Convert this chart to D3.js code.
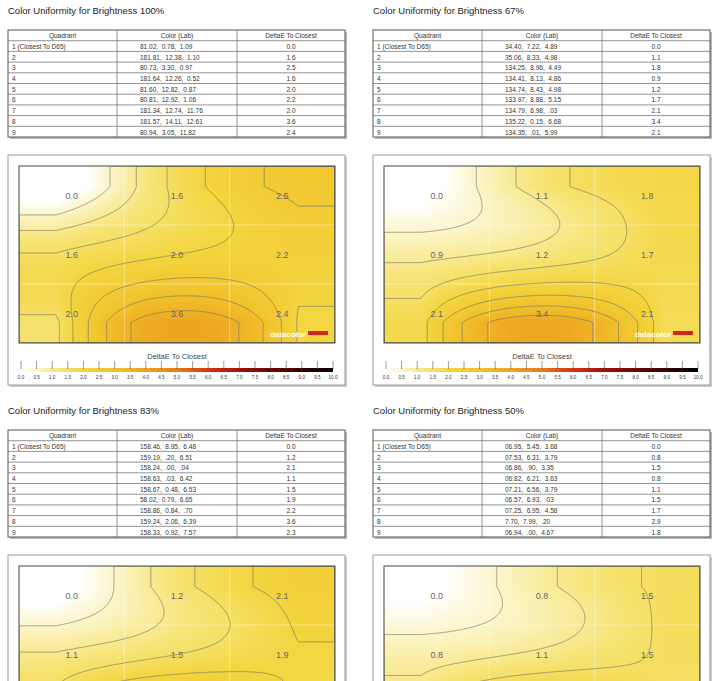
<!DOCTYPE html><html><head><meta charset="utf-8"><script src="https://cdn.jsdelivr.net/npm/d3@7"></script>
<style>body{margin:0;background:#fff}text{font-family:Arial,"Liberation Sans",sans-serif}</style></head><body>
<svg id="c" width="720" height="681"></svg>
<script>
const titles=["Color Uniformity for Brightness 100%","Color Uniformity for Brightness 67%","Color Uniformity for Brightness 83%","Color Uniformity for Brightness 50%"];
const quadrants=["1 (Closest To D65)","2","3","4","5","6","7","8","9"];
const lab100=["81.02,  0.78,  1.09","181.81,  12.38,  1.10","80.73,  3.30,  0.97","181.64,  12.26,  0.52","81.60,  12.82,  0.87","80.81,  12.92,  1.06","181.34,  12.74,  11.76","181.57,  14.11,  12.61","80.94,  3.05,  11.82"];
const lab67=["34.40,  7.22,  4.89","35.06,  8.33,  4.98","134.25,  8.96,  4.49","134.41,  8.13,  4.86","134.74,  8.43,  4.98","133.97,  8.88,  5.15","134.79,  6.98,  .03","135.22,  0.15,  6.68","134.35,  .01,  5.99"];
const lab83=["158.46,  8.95,  6.48","159.19,  .20,  6.51","158.24,  .00,  .04","158.63,  .03,  6.42","158.67,  0.48,  6.53","58.02,  0.79,  6.65","158.86,  0.84,  .70","159.24,  2.06,  6.39","158.33,  0.92,  7.57"];
const lab50=["06.95,  5.45,  3.68","07.53,  6.31,  3.79","06.86,  .90,  3.35","06.82,  6.21,  3.63","07.21,  6.56,  3.79","06.57,  6.93,  .03","07.25,  6.95,  4.58","7.70,  7.99,  .20","06.94,  .00,  4.67"];
const de100=[0.0,1.6,2.5,1.6,2.0,2.2,2.0,3.6,2.4];
const de67=[0.0,1.1,1.8,0.9,1.2,1.7,2.1,3.4,2.1];
const de83=[0.0,1.2,2.1,1.1,1.5,1.9,2.2,3.6,2.3];
const de50=[0.0,0.8,1.5,0.8,1.1,1.5,1.7,2.9,1.8];
const legendTicks=d3.range(0,10.01,0.5);
const panels=[{t:titles[0],lab:lab100,de:de100,x:8,y:0},{t:titles[1],lab:lab67,de:de67,x:373,y:0},{t:titles[2],lab:lab83,de:de83,x:8,y:400},{t:titles[3],lab:lab50,de:de50,x:373,y:400}];
const color=d3.scaleLinear().domain([0,0.6,1.2,2,3,4,5,6,7,8.5,10]).range(["#ffffff","#fbf3c0","#f7e57a","#f3d53e","#f1c02a","#eda320","#e87c16","#d83210","#a01008","#500400","#000000"]).clamp(true);
const svg=d3.select("#c");
const H=681;
function lag(v,u){u=Math.max(-0.15,Math.min(2.15,u));
 return v[0]*(u-1)*(u-2)/2 - v[1]*u*(u-2) + v[2]*u*(u-1)/2;}
panels.forEach((p,pi)=>{
 const g=svg.append("g").attr("transform",`translate(${p.x},${p.y})`);
 g.append("text").attr("x",0).attr("y",14).attr("font-size",9.5).attr("fill","#222").text(p.t);
 const W=337,rh=10.7,ty=30,cols=[0,109,229,W];
 const tg=g.append("g").attr("transform",`translate(0,${ty})`);
 tg.append("rect").attr("x",2).attr("y",2).attr("width",W).attr("height",rh*10).attr("fill","#bbb");
 tg.append("rect").attr("width",W).attr("height",rh*10).attr("fill","#fff").attr("stroke","#555");
 tg.selectAll("line.r").data(d3.range(1,10)).join("line").attr("x1",0).attr("x2",W).attr("y1",i=>i*rh).attr("y2",i=>i*rh).attr("stroke","#666").attr("stroke-width",0.7);
 tg.selectAll("line.c").data([109,229]).join("line").attr("x1",d=>d).attr("x2",d=>d).attr("y1",0).attr("y2",rh*10).attr("stroke","#666").attr("stroke-width",0.7);
 const hd=["Quadrant","Color (Lab)","DeltaE To Closest"];
 hd.forEach((h,i)=>tg.append("text").attr("x",(cols[i]+cols[i+1])/2).attr("y",rh-2.5).attr("text-anchor","middle").attr("font-size",6.5).attr("fill","#333").text(h));
 quadrants.forEach((q,r)=>{
  const yy=(r+2)*rh-2.5;
  tg.append("text").attr("x",4).attr("y",yy).attr("font-size",6.5).attr("fill","#333").text(q);
  tg.append("text").attr("x",132).attr("y",yy).attr("font-size",6.5).attr("fill","#333").attr("xml:space","preserve").text(p.lab[r]);
  tg.append("text").attr("x",(229+W)/2).attr("y",yy).attr("text-anchor","middle").attr("font-size",6.5).attr("fill","#333").text(p.de[r].toFixed(1));
 });
 const by=155;
 g.append("rect").attr("x",2).attr("y",by+2).attr("width",W).attr("height",230).attr("fill","#ccc");
 g.append("rect").attr("x",0).attr("y",by).attr("width",W).attr("height",230).attr("fill","#fff").attr("stroke","#999");
 const px=11,py=by+11,pw=316,ph=177;
 const v=p.de;
 const n=pw,m=ph,vals=new Float64Array(n*m);
 for(let j=0;j<m;j++){const uy=(j+0.5)/m*3-0.5;
  const colv=[0,1,2].map(c=>lag([v[c],v[3+c],v[6+c]],uy));
  for(let i=0;i<n;i++){const ux=(i+0.5)/n*3-0.5;vals[j*n+i]=Math.max(0,lag(colv,ux));}}
 const cv=document.createElement("canvas");cv.width=n;cv.height=m;const ctx=cv.getContext("2d");
 const im=ctx.createImageData(n,m);
 for(let k=0;k<n*m;k++){const c=d3.rgb(color(vals[k]));im.data[k*4]=c.r;im.data[k*4+1]=c.g;im.data[k*4+2]=c.b;im.data[k*4+3]=255;}
 ctx.putImageData(im,0,0);
 const clipId="cl"+pi;
 g.append("clipPath").attr("id",clipId).append("rect").attr("x",px).attr("y",py).attr("width",pw).attr("height",ph);
 const hg=g.append("g").attr("clip-path",`url(#${clipId})`);
 hg.append("image").attr("x",px).attr("y",py).attr("width",pw).attr("height",ph).attr("preserveAspectRatio","none").attr("href",cv.toDataURL());
 [1,2].forEach(k=>{hg.append("line").attr("x1",px+pw*k/3).attr("x2",px+pw*k/3).attr("y1",py).attr("y2",py+ph).attr("stroke","#fff").attr("stroke-opacity",0.4);
  hg.append("line").attr("y1",py+ph*k/3).attr("y2",py+ph*k/3).attr("x1",px).attr("x2",px+pw).attr("stroke","#fff").attr("stroke-opacity",0.4);});
 const conts=d3.contours().size([n,m]).thresholds(d3.range(0.5,10,0.5))(vals);
 hg.append("g").attr("transform",`translate(${px},${py})`).selectAll("path").data(conts).join("path").attr("d",d3.geoPath()).attr("fill","none").attr("stroke","#7a7a6a").attr("stroke-width",0.7);
 const vis=y=>p.y+y<H-6;
 v.forEach((d,k)=>{const cx=px+pw*((k%3)+0.5)/3,cy=py+ph*(Math.floor(k/3)+0.5)/3;
  if(!vis(cy+3))return;
  hg.append("text").attr("x",cx).attr("y",cy+3).attr("text-anchor","middle").attr("font-family","DejaVu Sans Mono,monospace").attr("font-size",9).attr("fill","#666").text(d.toFixed(1));});
 if(vis(py+ph)){
 hg.append("text").attr("x",px+pw-29).attr("y",py+ph-6).attr("text-anchor","end").attr("font-size",8).attr("font-weight","bold").attr("fill","#fff").text("datacolor");
 hg.append("rect").attr("x",px+pw-27).attr("y",py+ph-12).attr("width",20).attr("height",4).attr("fill","#d8251a");}
 g.append("rect").attr("x",px).attr("y",py).attr("width",pw).attr("height",ph).attr("fill","none").attr("stroke","#444");
 if(!vis(by+224))return;
 const lx=d3.scaleLinear().domain([0,10]).range([px+2,px+pw-2]);
 g.append("text").attr("x",px+pw/2).attr("y",by+204).attr("text-anchor","middle").attr("font-size",7.5).attr("fill","#444").text("DeltaE To Closest");
 const gr=g.append("defs").append("linearGradient").attr("id","lg"+pi);
 d3.range(0,10.01,0.5).forEach(t=>gr.append("stop").attr("offset",t/10).attr("stop-color",color(t)));
 g.append("rect").attr("x",lx(0)).attr("y",by+213).attr("width",lx(10)-lx(0)).attr("height",4).attr("fill",`url(#lg${pi})`);
 g.selectAll("line.tk"+pi).data(legendTicks).join("line").attr("x1",d=>lx(d)).attr("x2",d=>lx(d)).attr("y1",by+206).attr("y2",by+214).attr("stroke","#555").attr("stroke-width",0.6);
 g.selectAll("text.tl"+pi).data(legendTicks).join("text").attr("x",d=>lx(d)).attr("y",by+224).attr("text-anchor","middle").attr("font-size",4.6).attr("fill","#333").text(d=>d.toFixed(1));
});
</script></body></html>
